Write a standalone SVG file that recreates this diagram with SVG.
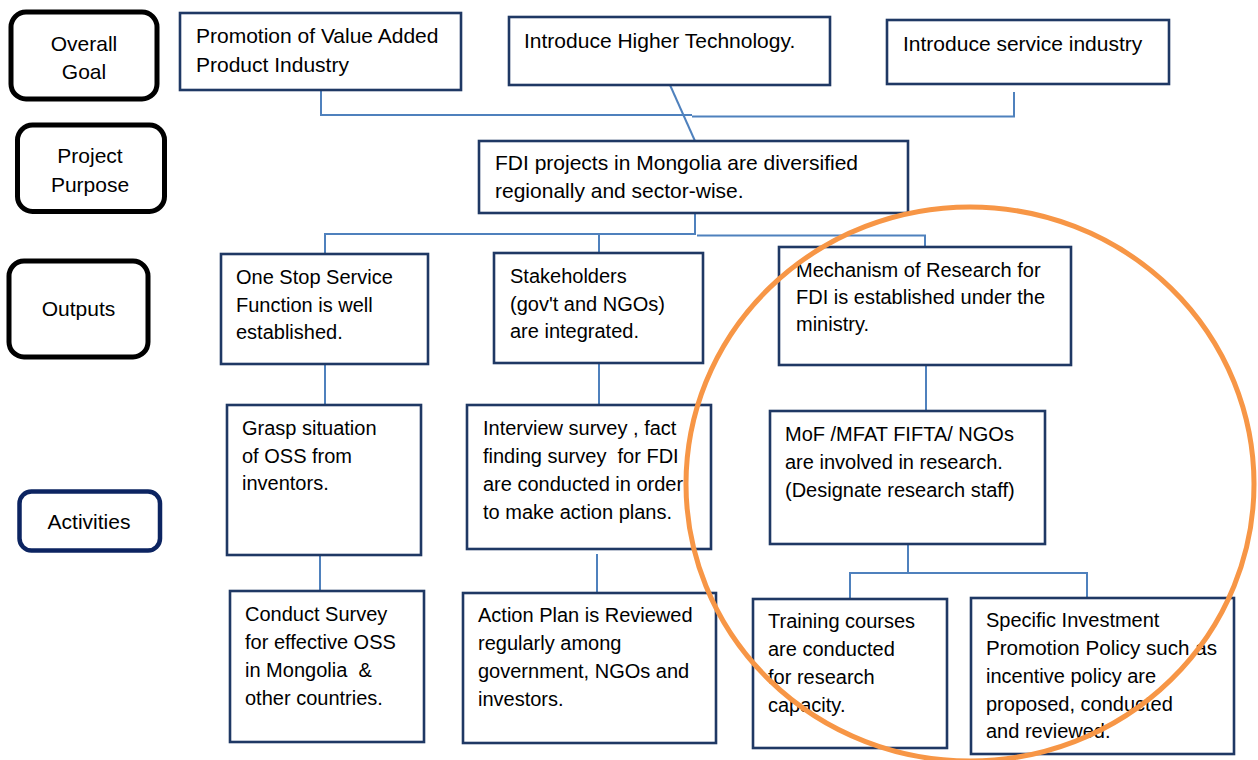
<svg xmlns="http://www.w3.org/2000/svg" width="1258" height="760" viewBox="0 0 1258 760">
  <style>
    .lvl { fill: #ffffff; stroke: #000000; stroke-width: 5; }
    .lvl-act { fill: #ffffff; stroke: #0c2461; stroke-width: 4.5; }
    .box { fill: #ffffff; stroke: #1f3864; stroke-width: 2.6; }
    .lbl { font-family: "Liberation Sans", Arial, sans-serif; font-size: 21px; fill: #000000; text-anchor: middle; }
    .t21 { font-family: "Liberation Sans", Arial, sans-serif; font-size: 21px; fill: #000000; }
    .t20 { font-family: "Liberation Sans", Arial, sans-serif; font-size: 20px; fill: #000000; white-space: pre; }
    .conn { fill: none; stroke: #4f81bd; stroke-width: 2; }
    .focus { fill: none; stroke: #f79646; stroke-width: 5; }
  </style>

  <!-- level labels on the left -->
  <g id="level-overall-goal">
    <rect class="lvl" x="11" y="12" width="146" height="87" rx="15"/>
    <text class="lbl" x="84" y="51">Overall</text>
    <text class="lbl" x="84" y="79">Goal</text>
  </g>
  <g id="level-project-purpose">
    <rect class="lvl" x="17.5" y="125" width="147" height="86.5" rx="15"/>
    <text class="lbl" x="90" y="163">Project</text>
    <text class="lbl" x="90" y="192">Purpose</text>
  </g>
  <g id="level-outputs">
    <rect class="lvl" x="9" y="261" width="139" height="96" rx="15"/>
    <text class="lbl" x="78.5" y="316">Outputs</text>
  </g>
  <g id="level-activities">
    <rect class="lvl-act" x="19.5" y="491.5" width="140.5" height="59" rx="12"/>
    <text class="lbl" x="89" y="529">Activities</text>
  </g>

  <!-- connectors -->
  <g id="connectors">
    <polyline class="conn" points="321,90 321,115 692,115"/>
    <polyline class="conn" points="692,116.5 1014,116.5 1014,92"/>
    <line class="conn" x1="670" y1="85" x2="695" y2="141"/>
    <polyline class="conn" points="325,254 325,234 695,234 695,213"/>
    <polyline class="conn" points="697,235.5 925,235.5 925,247"/>
    <line class="conn" x1="599" y1="234" x2="599" y2="253"/>
    <line class="conn" x1="325" y1="364" x2="325" y2="405"/>
    <line class="conn" x1="599" y1="363" x2="599" y2="405"/>
    <line class="conn" x1="926" y1="365" x2="926" y2="411"/>
    <line class="conn" x1="320" y1="555" x2="320" y2="591"/>
    <line class="conn" x1="597" y1="554" x2="597" y2="593"/>
    <polyline class="conn" points="908,544 908,573"/>
    <polyline class="conn" points="850,599 850,573 1087,573 1087,598"/>
  </g>

  <!-- overall goal -->
  <g id="goal-value-added">
    <rect class="box" x="180" y="13" width="281" height="77"/>
    <text class="t21" x="196" y="43">Promotion of Value Added</text>
    <text class="t21" x="196" y="72">Product Industry</text>
  </g>
  <g id="goal-higher-technology">
    <rect class="box" x="509" y="17" width="321" height="68"/>
    <text class="t21" x="524" y="48">Introduce Higher Technology.</text>
  </g>
  <g id="goal-service-industry">
    <rect class="box" x="887" y="20" width="282" height="64"/>
    <text class="t21" x="903" y="51">Introduce service industry</text>
  </g>

  <!-- project purpose -->
  <g id="purpose-fdi">
    <rect class="box" x="479" y="141" width="429" height="72"/>
    <text class="t21" x="495" y="170">FDI projects in Mongolia are diversified</text>
    <text class="t21" x="495" y="198">regionally and sector-wise.</text>
  </g>

  <!-- outputs -->
  <g id="output-one-stop">
    <rect class="box" x="221" y="254" width="207" height="110"/>
    <text class="t20" x="236" y="284">One Stop Service</text>
    <text class="t20" x="236" y="312">Function is well</text>
    <text class="t20" x="236" y="339">established.</text>
  </g>
  <g id="output-stakeholders">
    <rect class="box" x="494" y="253" width="209" height="110"/>
    <text class="t20" x="510" y="283">Stakeholders</text>
    <text class="t20" x="510" y="311">(gov't and NGOs)</text>
    <text class="t20" x="510" y="338">are integrated.</text>
  </g>
  <g id="output-research">
    <rect class="box" x="779" y="247" width="292" height="118"/>
    <text class="t20" x="796" y="277">Mechanism of Research for</text>
    <text class="t20" x="796" y="304">FDI is established under the</text>
    <text class="t20" x="796" y="331">ministry.</text>
  </g>

  <!-- activities -->
  <g id="act-grasp">
    <rect class="box" x="227" y="405" width="194" height="150"/>
    <text class="t20" x="242" y="435">Grasp situation</text>
    <text class="t20" x="242" y="463">of OSS from</text>
    <text class="t20" x="242" y="490">inventors.</text>
  </g>
  <g id="act-conduct-survey">
    <rect class="box" x="230" y="591" width="194" height="151"/>
    <text class="t20" x="245" y="621">Conduct Survey</text>
    <text class="t20" x="245" y="649">for effective OSS</text>
    <text class="t20" x="245" y="677">in Mongolia  &amp;</text>
    <text class="t20" x="245" y="705">other countries.</text>
  </g>
  <g id="act-interview">
    <rect class="box" x="467" y="405" width="244" height="144"/>
    <text class="t20" x="483" y="435">Interview survey , fact</text>
    <text class="t20" x="483" y="463">finding survey  for FDI</text>
    <text class="t20" x="483" y="491">are conducted in order</text>
    <text class="t20" x="483" y="519">to make action plans.</text>
  </g>
  <g id="act-action-plan">
    <rect class="box" x="463" y="593" width="253" height="150"/>
    <text class="t20" x="478" y="622">Action Plan is Reviewed</text>
    <text class="t20" x="478" y="650">regularly among</text>
    <text class="t20" x="478" y="678">government, NGOs and</text>
    <text class="t20" x="478" y="706">investors.</text>
  </g>
  <g id="act-research-staff">
    <rect class="box" x="770" y="411" width="275" height="133"/>
    <text class="t20" x="785" y="441">MoF /MFAT FIFTA/ NGOs</text>
    <text class="t20" x="785" y="469">are involved in research.</text>
    <text class="t20" x="785" y="497">(Designate research staff)</text>
  </g>
  <g id="act-training">
    <rect class="box" x="753" y="599" width="194" height="149"/>
    <text class="t20" x="768" y="628">Training courses</text>
    <text class="t20" x="768" y="656">are conducted</text>
    <text class="t20" x="768" y="684">for research</text>
    <text class="t20" x="768" y="712">capacity.</text>
  </g>
  <g id="act-investment-policy">
    <rect class="box" x="971" y="598" width="263" height="156"/>
    <text class="t20" x="986" y="627">Specific Investment</text>
    <text class="t20" x="986" y="655" textLength="231" lengthAdjust="spacingAndGlyphs">Promotion Policy such as</text>
    <text class="t20" x="986" y="683">incentive policy are</text>
    <text class="t20" x="986" y="711">proposed, conducted</text>
    <text class="t20" x="986" y="738">and reviewed.</text>
  </g>

  <!-- highlight ring around the research branch -->
  <g id="research-highlight">
    <ellipse class="focus" cx="970" cy="484" rx="284" ry="277"/>
  </g>
</svg>
